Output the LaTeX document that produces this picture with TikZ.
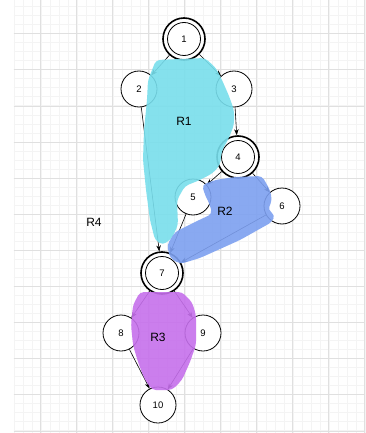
\documentclass[tikz,border=0pt]{standalone}
\usepackage{fontspec}
\setmainfont{Liberation Sans}
\usetikzlibrary{arrows.meta}
\definecolor{gridmaj}{RGB}{224,224,224}
\definecolor{gridmin}{RGB}{244,244,244}
\definecolor{rone}{RGB}{120,222,236}
\definecolor{rtwo}{RGB}{125,160,240}
\definecolor{rthree}{RGB}{198,112,236}
\tikzset{
  vtx/.style={circle, draw, line width=0.8pt, minimum size=36pt, inner sep=0pt, fill=white, font=\fontsize{9.5}{9.5}\selectfont},
  dvtx/.style={vtx, line width=1.6pt, minimum size=42pt},
  edge/.style={-{Stealth[length=6pt,width=4.5pt]}, line width=0.6pt},
  region/.style={rounded corners=4pt, opacity=0.9},
  rlabel/.style={font=\fontsize{12}{12}\selectfont},
}
\begin{document}
\begin{tikzpicture}[x=1pt,y=-1pt]
\useasboundingbox (0,0) rectangle (365,433);
\fill[white] (0,0) rectangle (365,433);
% grid
\foreach \i in {0,...,39} {
  \draw[gridmin, line width=0.4pt] ({13.7+9*\i},0) -- ({13.7+9*\i},433);
}
\foreach \j in {0,...,48} {
  \draw[gridmin, line width=0.4pt] (13.7,{6.7+9*\j}) -- (365,{6.7+9*\j});
}
\foreach \i in {0,...,9} {
  \draw[gridmaj, line width=0.6pt] ({40.7+36*\i},0) -- ({40.7+36*\i},433);
}
\foreach \j in {0,...,11} {
  \draw[gridmaj, line width=0.6pt] (13.7,{33.7+36.1*\j}) -- (365,{33.7+36.1*\j});
}
% nodes
\node[dvtx] (n1) at (184,39) {1};
\node[vtx] (n2) at (139,89) {2};
\node[vtx] (n3) at (234,89) {3};
\node[dvtx] (n4) at (238,157) {4};
\node[vtx] (n5) at (193,197) {5};
\node[vtx] (n6) at (282,206) {6};
\node[dvtx] (n7) at (162,273) {7};
\node[vtx] (n8) at (121,333) {8};
\node[vtx] (n9) at (203,333) {9};
\node[vtx] (n10) at (158,405) {10};
\foreach \n in {n1,n4,n7} {
  \draw[line width=0.8pt] (\n.center) circle[radius=16.5];
}
% edges
\draw[edge] (n1) -- (n2);
\draw[edge] (n1) -- (n3);
\draw[edge] (n2) -- (n7);
\draw[edge] (n3) -- (n4);
\draw[edge] (n4) -- (n5);
\draw[edge] (n4) -- (n6);
\draw[edge] (n5) -- (n7);
\draw[edge] (n6) -- (n7);
\draw[edge] (n7) -- (n8);
\draw[edge] (n7) -- (n9);
\draw[edge] (n8) -- (n10);
\draw[edge] (n9) -- (n10);
% regions
\fill[rone, region] (156,60) -- (205,58) -- (216,68) -- (222,80) -- (229,96) -- (234,110) -- (234,125) -- (228,140) -- (222,150) -- (220,165) -- (213,173) -- (200,180) -- (185,186) -- (177,200) -- (178,225) -- (172,238) -- (163,245) -- (155,240) -- (150,220) -- (146,190) -- (143,160) -- (144,130) -- (147,100) -- (148,80) -- cycle;
\fill[rtwo, region] (202,185) -- (215,180) -- (235,177) -- (262,176) -- (270,190) -- (272,200) -- (268,210) -- (275,215) -- (272,222) -- (240,240) -- (200,258) -- (180,264) -- (170,258) -- (167,245) -- (175,232) -- (195,222) -- (212,214) -- (210,205) -- (205,195) -- cycle;
\fill[rthree, region] (140,292) -- (182,292) -- (192,302) -- (196,315) -- (196,345) -- (190,362) -- (182,380) -- (172,390) -- (152,390) -- (144,378) -- (138,362) -- (133,345) -- (131,325) -- (133,305) -- cycle;
% labels
\node[rlabel] (r1) at (184,121) {R1};
\node[rlabel] (r2) at (225,211) {R2};
\node[rlabel] (r3) at (158,337) {R3};
\node[rlabel] (r4) at (94,222) {R4};
\end{tikzpicture}
\end{document}
